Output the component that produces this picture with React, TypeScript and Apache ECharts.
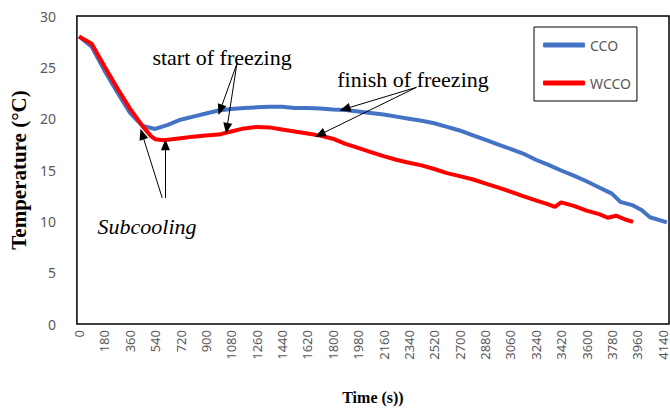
import React, { useEffect, useRef } from "react";
import * as echarts from "echarts";

// Tick labels of the time axis (s)
const timeTicks = [0, 180, 360, 540, 720, 900, 1080, 1260, 1440, 1620, 1800, 1980, 2160, 2340, 2520, 2700, 2880, 3060, 3240, 3420, 3600, 3780, 3960, 4140];

// CCO series
const ccoTime = [0, 90, 180, 270, 360, 450, 540, 630, 720, 810, 900, 990, 1080, 1170, 1260, 1350, 1440, 1530, 1620, 1710, 1800, 1890, 1980, 2070, 2160, 2250, 2340, 2430, 2520, 2610, 2700, 2790, 2880, 2970, 3060, 3150, 3240, 3330, 3420, 3510, 3600, 3690, 3780, 3840, 3930, 3990, 4050, 4170];
const ccoTemp = [28.0, 27.0, 24.7, 22.6, 20.6, 19.3, 19.0, 19.4, 19.9, 20.2, 20.5, 20.8, 20.95, 21.05, 21.1, 21.15, 21.15, 21.05, 21.05, 21.0, 20.9, 20.85, 20.7, 20.55, 20.4, 20.2, 20.0, 19.8, 19.55, 19.2, 18.85, 18.4, 17.95, 17.5, 17.05, 16.6, 16.0, 15.5, 14.95, 14.45, 13.9, 13.3, 12.7, 11.9, 11.55, 11.1, 10.4, 9.9];

// WCCO series
const wccoTime = [0, 90, 180, 270, 360, 450, 510, 540, 600, 720, 810, 900, 990, 1080, 1170, 1260, 1350, 1440, 1530, 1620, 1710, 1800, 1890, 1980, 2070, 2160, 2250, 2340, 2430, 2520, 2610, 2700, 2790, 2880, 2970, 3060, 3150, 3240, 3330, 3375, 3420, 3510, 3600, 3690, 3750, 3810, 3870, 3930];
const wccoTemp = [28.0, 27.3, 25.1, 23.0, 21.0, 19.3, 18.3, 18.0, 17.9, 18.1, 18.25, 18.35, 18.45, 18.75, 19.05, 19.2, 19.15, 18.95, 18.75, 18.55, 18.35, 18.05, 17.55, 17.15, 16.75, 16.35, 16.0, 15.7, 15.45, 15.1, 14.7, 14.4, 14.1, 13.7, 13.3, 12.9, 12.45, 12.05, 11.65, 11.4, 11.85, 11.5, 11.05, 10.7, 10.35, 10.55, 10.2, 9.95];

// Annotation arrows in data space: [fromTime, fromTemp, toTime, toTemp]
const arrows = [
  [1120, 25.36, 1002, 20.85],
  [1120, 25.36, 1049, 19.05],
  [2393, 23.05, 1886, 20.95],
  [2393, 23.05, 1709, 18.45],
  [590, 12.28, 448, 18.5],
  [613, 12.28, 613, 17.45],
];

const zip = (a: number[], b: number[]) => a.map((v, i) => [v, b[i]]);

export default function App() {
  const ref = useRef<HTMLDivElement>(null);
  useEffect(() => {
    document.body.style.margin = "0";
    const chart = echarts.init(ref.current!, null, { renderer: "svg" });
    const labelFont = "Noto Sans";
    const serif = "Liberation Serif";
    const annoText = (text: string, x: number, y: number, italic = false) => ({
      type: "text",
      x,
      y,
      style: {
        text,
        fontFamily: serif,
        fontSize: 22,
        fontStyle: italic ? "italic" : "normal",
        fill: "#000",
        align: "center",
        verticalAlign: "middle",
      },
    });
    chart.setOption({
      animation: false,
      grid: {
        left: 75,
        right: 1,
        top: 16,
        bottom: 78,
        show: true,
        borderColor: "#000",
        borderWidth: 1.5,
        containLabel: false,
      },
      xAxis: {
        type: "value",
        min: -15,
        max: 4185,
        name: "Time (s))",
        nameLocation: "middle",
        nameGap: 65,
        nameTextStyle: { fontFamily: serif, fontWeight: "bold", fontSize: 16, color: "#000" },
        axisLine: { show: false },
        axisTick: { show: false },
        splitLine: { show: false },
        axisLabel: {
          customValues: timeTicks,
          formatter: (v: number) => String(v),
          rotate: 90,
          margin: 6,
          color: "#595959",
          fontFamily: labelFont,
          fontSize: 13,
        },
      },
      yAxis: {
        type: "value",
        min: 0,
        max: 30,
        interval: 5,
        name: "Temperature (°C)",
        nameLocation: "middle",
        nameGap: 41,
        nameTextStyle: { fontFamily: serif, fontWeight: "bold", fontSize: 21, color: "#000" },
        axisLine: { show: false },
        axisTick: { show: false },
        splitLine: { show: false },
        axisLabel: { color: "#595959", fontFamily: labelFont, fontSize: 14, margin: 21 },
      },
      legend: {
        orient: "vertical",
        left: 534,
        top: 27,
        padding: [10, 6, 10, 9],
        itemGap: 22,
        itemWidth: 42,
        itemHeight: 5,
        icon: "roundRect",
        borderColor: "#000",
        borderWidth: 1,
        backgroundColor: "#fff",
        textStyle: { color: "#595959", fontFamily: labelFont, fontSize: 14, lineHeight: 16 },
        data: ["CCO", "WCCO"],
      },
      series: [
        {
          name: "CCO",
          type: "line",
          data: zip(ccoTime, ccoTemp),
          showSymbol: false,
          symbol: "none",
          color: "#4472C4",
          lineStyle: { width: 4, color: "#4472C4" },
          z: 2,
          markLine: {
            silent: true,
            symbol: ["none", "triangle"],
            symbolSize: [9, 11],
            label: { show: false },
            lineStyle: { color: "#000", width: 1, type: "solid" },
            itemStyle: { color: "#000" },
            emphasis: { disabled: true },
            data: arrows.map((a) => [
              { coord: [a[0], a[1]] },
              { coord: [a[2], a[3]] },
            ]),
            z: 10,
          },
        },
        {
          name: "WCCO",
          type: "line",
          data: zip(wccoTime, wccoTemp),
          showSymbol: false,
          symbol: "none",
          color: "#FF0000",
          lineStyle: { width: 4, color: "#FF0000" },
          z: 3,
        },
      ],
      graphic: [
        annoText("start of freezing", 222, 57),
        annoText("finish of freezing", 413, 79),
        annoText("Subcooling", 147, 226, true),
      ],
    });
    return () => chart.dispose();
  }, []);
  return <div ref={ref} style={{ width: 670, height: 410 }} />;
}
